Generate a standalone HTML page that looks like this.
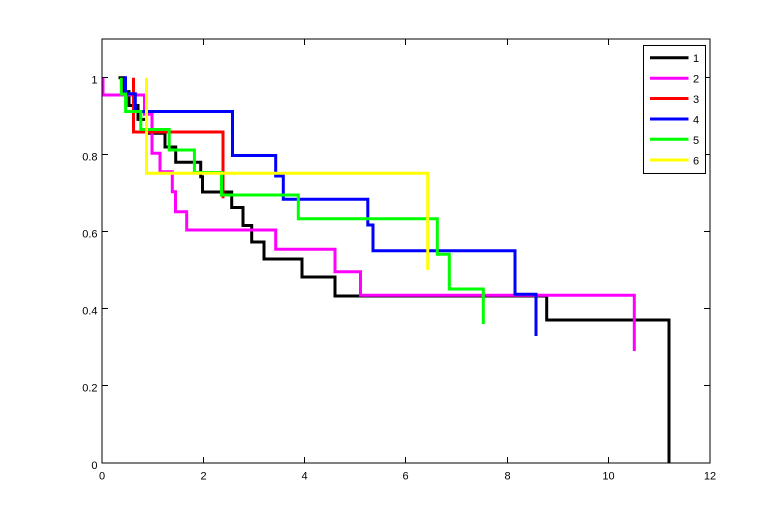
<!DOCTYPE html>
<html>
<head>
<meta charset="utf-8">
<style>
  html, body { margin: 0; padding: 0; background: #ffffff; }
  svg { display: block; }
  text { font-family: "Liberation Sans", Arial, sans-serif; font-size: 11px; fill: #000; }
</style>
</head>
<body>
<svg width="784" height="520" viewBox="0 0 784 520" xmlns="http://www.w3.org/2000/svg">
  <rect x="0" y="0" width="784" height="520" fill="#ffffff"/>

  <!-- ticks -->
  <g stroke="#000" stroke-width="1" fill="none">
    <path d="M203.5,463 V457 M304.5,463 V457 M405.5,463 V457 M507.5,463 V457 M608.5,463 V457
             M203.5,39 V45 M304.5,39 V45 M405.5,39 V45 M507.5,39 V45 M608.5,39 V45"/>
    <path d="M102,385.5 H108 M102,308.5 H108 M102,231.5 H108 M102,154.5 H108 M102,77.5 H108
             M710,385.5 H704 M710,308.5 H704 M710,231.5 H704 M710,154.5 H704 M710,77.5 H704"/>
  </g>

  <!-- series -->
  <g fill="none" stroke-width="3" stroke-linejoin="miter" stroke-linecap="butt">
    <path stroke="#000000" d="M118.5,77.7 H123.7 V91.6 H129 V105.5 H138 V119.4 H146.5 V133.3 H165 V147 H175.7 V162.2 H200.7 V176.7 H202.5 V192 H231.7 V207.5 H243 V225.5 H251.7 V242 H264 V259 H302 V277 H335 V296 H546.7 V320 H669 V463"/>
    <path stroke="#ff00ff" d="M103,77.7 V95 H144.5 V114.3 H152 V153.3 H160 V171.7 H172.3 V191.7 H175.5 V211.7 H186.7 V230 H275.7 V249.3 H335 V271.7 H360.5 V295.3 H634.3 V351"/>
    <path stroke="#ff0000" d="M133.5,77.7 V132 H223 V198.3"/>
    <path stroke="#0000ff" d="M123.5,77.7 H125.5 V93.8 H135.3 V111.5 H232.5 V155.5 H275.7 V176 H283.3 V199.2 H367.8 V225 H373 V250.8 H515 V294.3 H536 V336"/>
    <path stroke="#00ff00" d="M121.3,77.7 V94 H125.6 V111.5 H140.8 V129.5 H169.2 V150 H194.4 V172.5 H221.5 V195 H298.3 V218.8 H437.3 V254.3 H449.3 V289 H483.3 V324"/>
    <path stroke="#ffff00" d="M146.5,77.7 V173.3 H427.7 V270"/>
  </g>

  <!-- axes box -->
  <rect x="102" y="39" width="608" height="424" fill="none" stroke="#000" stroke-width="1"/>

  <!-- y tick labels -->
  <g text-anchor="end">
    <text x="97.5" y="469">0</text>
    <text x="97.5" y="391.5">0.2</text>
    <text x="97.5" y="314.5">0.4</text>
    <text x="97.5" y="237.5">0.6</text>
    <text x="97.5" y="160.5">0.8</text>
    <text x="97.5" y="83.5">1</text>
  </g>

  <!-- x tick labels -->
  <g text-anchor="middle">
    <text x="102" y="479.5">0</text>
    <text x="203.5" y="479.5">2</text>
    <text x="304.5" y="479.5">4</text>
    <text x="405.5" y="479.5">6</text>
    <text x="507.5" y="479.5">8</text>
    <text x="608.5" y="479.5">10</text>
    <text x="710" y="479.5">12</text>
  </g>

  <!-- legend -->
  <rect x="643.5" y="45.5" width="62" height="128" fill="#ffffff" stroke="#000" stroke-width="1"/>
  <g stroke-width="3" fill="none">
    <path stroke="#000000" d="M650,57.7 H688.5"/>
    <path stroke="#ff00ff" d="M650,78.3 H688.5"/>
    <path stroke="#ff0000" d="M650,98.5 H688.5"/>
    <path stroke="#0000ff" d="M650,119 H688.5"/>
    <path stroke="#00ff00" d="M650,139.3 H688.5"/>
    <path stroke="#ffff00" d="M650,160 H688.5"/>
  </g>
  <g>
    <text x="693" y="62">1</text>
    <text x="693" y="82.5">2</text>
    <text x="693" y="103">3</text>
    <text x="693" y="123.5">4</text>
    <text x="693" y="144">5</text>
    <text x="693" y="164.5">6</text>
  </g>
</svg>
</body>
</html>
